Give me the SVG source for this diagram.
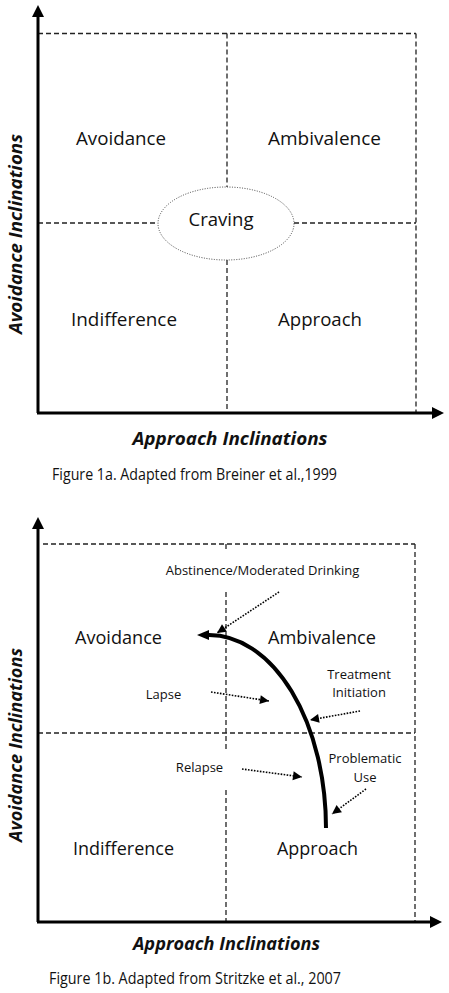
<svg xmlns="http://www.w3.org/2000/svg" width="449" height="993" viewBox="0 0 449 993">
<style>
text{font-family:"Open Sans","Liberation Sans",sans-serif;fill:#111}
.q{font-size:19px;text-anchor:middle}
.s{font-size:13px;text-anchor:middle}
.ax{font-size:18px;font-weight:bold;font-style:italic;text-anchor:middle}
.cap{font-size:16.5px}
.axis{stroke:#000;stroke-width:3;fill:none}
.dash{stroke:#222;stroke-width:1.3;stroke-dasharray:5 3;fill:none}
.dot{stroke:#000;stroke-width:1.6;stroke-dasharray:1.6 1.4;fill:none}
.curve{stroke:#000;stroke-width:4;fill:none}
</style>
<defs>
<marker id="axArrow" markerUnits="userSpaceOnUse" markerWidth="13" markerHeight="13" refX="0" refY="6" orient="auto" overflow="visible">
<path d="M0,0 L12,6 L0,12 z" fill="#000"/>
</marker>
<marker id="bigArrow" markerUnits="userSpaceOnUse" markerWidth="13" markerHeight="12" refX="0" refY="5" orient="auto" overflow="visible">
<path d="M0,0 L12,5 L0,10 z" fill="#000"/>
</marker>
<marker id="dotArrow" markerUnits="userSpaceOnUse" markerWidth="10" markerHeight="10" refX="9" refY="4.5" orient="auto" overflow="visible">
<path d="M0,0 L9,4.5 L0,9 z" fill="#000"/>
</marker>
</defs>

<!-- Figure 1a -->
<g id="fig1a-grid">
<path class="dash" d="M38,33.5 H416 M416,33.5 V413 M227,33.5 V187 M227,260 V413 M38,223 H158 M294,223 H416"/>
</g>
<g id="fig1a-axes">
<path class="axis" d="M38,413 V17" marker-end="url(#axArrow)"/>
<path class="axis" d="M37,413 H432" marker-end="url(#axArrow)"/>
</g>
<g id="fig1a-avoidance"><text class="q" x="121" y="145" textLength="90" lengthAdjust="spacingAndGlyphs">Avoidance</text></g>
<g id="fig1a-ambivalence"><text class="q" x="324.5" y="145" textLength="113" lengthAdjust="spacingAndGlyphs">Ambivalence</text></g>
<g id="fig1a-craving">
<ellipse cx="226" cy="223.5" rx="68" ry="36.5" fill="none" stroke="#444" stroke-width="1" stroke-dasharray="1 1.5"/>
<text class="q" x="221" y="226" textLength="65" lengthAdjust="spacingAndGlyphs">Craving</text>
</g>
<g id="fig1a-indifference"><text class="q" x="124" y="326" textLength="106" lengthAdjust="spacingAndGlyphs">Indifference</text></g>
<g id="fig1a-approach"><text class="q" x="320" y="326" textLength="84" lengthAdjust="spacingAndGlyphs">Approach</text></g>
<g id="fig1a-labels">
<text class="ax" x="230" y="445" textLength="195" lengthAdjust="spacingAndGlyphs">Approach Inclinations</text>
<text class="ax" transform="translate(22,234) rotate(-90)" textLength="200" lengthAdjust="spacingAndGlyphs">Avoidance Inclinations</text>
<text class="cap" x="52" y="480" textLength="285" lengthAdjust="spacingAndGlyphs">Figure 1a. Adapted from Breiner et al.,1999</text>
</g>

<!-- Figure 1b -->
<g id="fig1b-grid">
<path class="dash" d="M43,544 H415 M415,544 V922 M38,733 H415 M226,544 V551 M226,592 V750 M226,790 V922"/>
</g>
<g id="fig1b-axes">
<path class="axis" d="M38,922 V529" marker-end="url(#axArrow)"/>
<path class="axis" d="M37,922 H430" marker-end="url(#axArrow)"/>
</g>
<g id="fig1b-avoidance"><text class="q" x="118.5" y="644" textLength="87" lengthAdjust="spacingAndGlyphs">Avoidance</text></g>
<g id="fig1b-ambivalence"><text class="q" x="322" y="644" textLength="108" lengthAdjust="spacingAndGlyphs">Ambivalence</text></g>
<g id="fig1b-indifference"><text class="q" x="123.5" y="855" textLength="101" lengthAdjust="spacingAndGlyphs">Indifference</text></g>
<g id="fig1b-approach"><text class="q" x="317.5" y="855" textLength="81" lengthAdjust="spacingAndGlyphs">Approach</text></g>
<g id="fig1b-abstinence"><text class="s" x="262.5" y="575">Abstinence/Moderated Drinking</text></g>
<g id="fig1b-treatment"><text class="s" x="359" y="679">Treatment</text><text class="s" x="359" y="697">Initiation</text></g>
<g id="fig1b-lapse"><text class="s" x="163.5" y="699">Lapse</text></g>
<g id="fig1b-relapse"><text class="s" x="199.5" y="772">Relapse</text></g>
<g id="fig1b-problematic"><text class="s" x="365" y="763">Problematic</text><text class="s" x="365" y="782">Use</text></g>
<g id="connectors">
<path class="curve" d="M326,828 A117,193 0 0 0 209,635" marker-end="url(#bigArrow)"/>
<path class="dot" d="M279,592 L217,633" marker-end="url(#dotArrow)"/>
<path class="dot" d="M360,711 L310,720" marker-end="url(#dotArrow)"/>
<path class="dot" d="M211,692 L269,701" marker-end="url(#dotArrow)"/>
<path class="dot" d="M242,769 L302,777" marker-end="url(#dotArrow)"/>
<path class="dot" d="M366,789 L332,814" marker-end="url(#dotArrow)"/>
</g>
<g id="fig1b-labels">
<text class="ax" x="226.5" y="950" textLength="187" lengthAdjust="spacingAndGlyphs">Approach Inclinations</text>
<text class="ax" transform="translate(22,745) rotate(-90)" textLength="194" lengthAdjust="spacingAndGlyphs">Avoidance Inclinations</text>
<text class="cap" x="49" y="984" textLength="292" lengthAdjust="spacingAndGlyphs">Figure 1b. Adapted from Stritzke et al., 2007</text>
</g>
</svg>
